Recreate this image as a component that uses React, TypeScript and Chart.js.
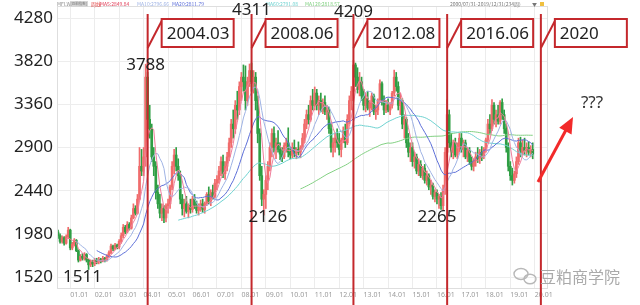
import { useEffect, useRef } from 'react';
import { Chart, registerables } from 'chart.js';

Chart.register(...registerables);

// ---- categories: monthly, 2000.07 .. 2020.07 (last 7 are empty padding months)
const categories: string[] = [];
for (let k = 0; k < 241; k++) {
  const m0 = 6 + k;
  const yy = 2000 + Math.floor(m0 / 12);
  const mm = (m0 % 12) + 1;
  categories.push(`${yy}.${String(mm).padStart(2, '0')}`);
}

const yTicks = [1520, 1980, 2440, 2900, 3360, 3820, 4280];

// ---- monthly OHLC (2000.07 .. 2019.12)
const opens = [
  2000, 1960, 1900, 1940, 1880, 1950,
  2020, 1830, 1870, 1910, 1800, 1700, 1740, 1720, 1760, 1700, 1650, 1680,
  1660, 1700, 1680, 1710, 1690, 1720, 1700, 1740, 1780, 1850, 1820, 1860,
  1840, 1900, 1960, 2050, 2000, 2080, 2040, 2150, 2250, 2200, 2350, 2700,
  2650, 2800, 3650, 3200, 3100, 2800, 2700, 2420, 2300, 2200, 2250, 2150,
  2280, 2300, 2480, 2700, 2820, 2700, 2600, 2350, 2250, 2300, 2220, 2280,
  2240, 2350, 2280, 2230, 2260, 2300, 2240, 2300, 2400, 2330, 2420, 2380,
  2520, 2560, 2650, 2750, 2620, 2700, 2800, 2950, 3150, 3100, 3350, 3300,
  3550, 3650, 3600, 3400, 3600, 3720, 3580, 3650, 3400, 3050, 2600, 2350,
  2400, 2550, 2700, 2900, 3050, 2900, 2950, 2880, 2830, 2800, 2920, 2950,
  2850, 2820, 2900, 2840, 2880, 2850, 2900, 3000, 3150, 3250, 3200, 3400,
  3350, 3480, 3350, 3400, 3300, 3380, 3280, 3300, 3100, 2900, 2950, 3000,
  2950, 2880, 2980, 3080, 2950, 3200, 3400, 3500, 3780, 3650, 3520, 3600,
  3450, 3350, 3420, 3320, 3380, 3450, 3280, 3300, 3400, 3580, 3400, 3300,
  3350, 3300, 3350, 3480, 3650, 3550, 3350, 3400, 3150, 3200, 2950, 2850,
  2900, 2750, 2800, 2650, 2720, 2600, 2680, 2550, 2600, 2480, 2500, 2380,
  2420, 2350, 2380, 2280, 2450, 2850, 3250, 2950, 2850, 2950, 2820, 2900,
  3000, 2880, 2950, 2800, 2870, 2750, 2700, 2760, 2800, 2780, 2850, 2800,
  2880, 2980, 3150, 3100, 3350, 3200, 3250, 3180, 3380, 3250, 3100, 2900,
  2700, 2600, 2550, 2620, 2750, 2950, 2850, 2900, 2870, 2900, 2850, 2880,
];
const highs = [
  2020, 1980, 1960, 1950, 1970, 2050,
  2030, 1890, 1930, 1920, 1810, 1760, 1770, 1780, 1770, 1710, 1700, 1700,
  1720, 1720, 1730, 1720, 1740, 1730, 1760, 1800, 1870, 1860, 1880, 1870,
  1920, 1990, 2080, 2070, 2110, 2100, 2180, 2300, 2280, 2400, 2900, 2880,
  2900, 3788, 3700, 3350, 3150, 2900, 2750, 2500, 2400, 2300, 2280, 2300,
  2350, 2500, 2750, 2880, 2900, 2780, 2650, 2400, 2350, 2380, 2300, 2350,
  2380, 2400, 2330, 2300, 2340, 2350, 2320, 2420, 2480, 2450, 2500, 2560,
  2600, 2700, 2800, 2820, 2750, 2850, 3000, 3200, 3300, 3400, 3500, 3600,
  3700, 3780, 3770, 3650, 3790, 3800, 3720, 3700, 3450, 3100, 2700, 2450,
  2600, 2750, 2950, 3100, 3120, 3000, 3080, 2950, 2900, 2950, 3000, 3110,
  2900, 2950, 2980, 2900, 2960, 2920, 3050, 3200, 3300, 3350, 3450, 3520,
  3545, 3520, 3450, 3480, 3420, 3450, 3350, 3330, 3150, 3000, 3050, 3100,
  3050, 3000, 3120, 3150, 3250, 3450, 3550, 3830, 3800, 3750, 3700, 3650,
  3520, 3480, 3500, 3400, 3480, 3470, 3350, 3420, 3620, 3600, 3450, 3400,
  3420, 3380, 3500, 3725, 3700, 3600, 3480, 3420, 3250, 3220, 3050, 2950,
  2950, 2850, 2830, 2780, 2760, 2700, 2720, 2650, 2620, 2550, 2520, 2450,
  2450, 2400, 2420, 2500, 2900, 3410, 3300, 3050, 2980, 3000, 2950, 3050,
  3050, 2980, 2980, 2900, 2900, 2800, 2780, 2850, 2900, 2880, 2910, 2900,
  3000, 3200, 3250, 3410, 3380, 3300, 3350, 3400, 3420, 3300, 3150, 2950,
  2750, 2680, 2650, 2800, 3000, 3010, 2980, 3000, 2950, 2960, 2920, 2950,
];
const lows = [
  1930, 1880, 1880, 1860, 1870, 1930,
  1810, 1810, 1850, 1790, 1680, 1690, 1700, 1700, 1680, 1600, 1630, 1630,
  1640, 1660, 1660, 1670, 1680, 1680, 1690, 1730, 1770, 1800, 1810, 1820,
  1820, 1880, 1940, 1980, 1990, 2020, 2030, 2140, 2180, 2190, 2340, 2600,
  2600, 2700, 3100, 3000, 2750, 2600, 2350, 2250, 2150, 2120, 2100, 2106,
  2200, 2250, 2450, 2620, 2650, 2550, 2300, 2180, 2160, 2200, 2150, 2200,
  2210, 2250, 2200, 2180, 2220, 2210, 2200, 2280, 2300, 2280, 2350, 2360,
  2450, 2520, 2600, 2580, 2560, 2650, 2760, 2900, 3000, 3050, 3200, 3250,
  3400, 3500, 3300, 3350, 3550, 3500, 3480, 3300, 2950, 2550, 2280, 2180,
  2250, 2450, 2650, 2800, 2850, 2780, 2850, 2770, 2750, 2780, 2850, 2800,
  2780, 2790, 2800, 2780, 2820, 2790, 2880, 2950, 3100, 3150, 3180, 3300,
  3300, 3300, 3250, 3280, 3260, 3250, 3200, 3050, 2850, 2800, 2850, 2900,
  2820, 2800, 2950, 2900, 2930, 3150, 3300, 3450, 3550, 3480, 3450, 3400,
  3300, 3280, 3300, 3230, 3300, 3250, 3200, 3250, 3380, 3350, 3250, 3270,
  3280, 3250, 3320, 3450, 3500, 3300, 3250, 3100, 3000, 2900, 2800, 2750,
  2700, 2680, 2620, 2600, 2580, 2560, 2520, 2500, 2450, 2400, 2350, 2320,
  2300, 2250, 2240, 2230, 2400, 2800, 2900, 2800, 2780, 2800, 2780, 2850,
  2850, 2800, 2780, 2750, 2720, 2660, 2650, 2700, 2740, 2730, 2760, 2780,
  2850, 2950, 3050, 3080, 3150, 3120, 3150, 3150, 3200, 3050, 2850, 2650,
  2550, 2500, 2520, 2580, 2720, 2800, 2820, 2820, 2800, 2820, 2800, 2780,
];
const closes = [
  1960, 1900, 1940, 1880, 1950, 2020,
  1830, 1870, 1910, 1800, 1700, 1740, 1720, 1760, 1700, 1650, 1680, 1660,
  1700, 1680, 1710, 1690, 1720, 1700, 1740, 1780, 1850, 1820, 1860, 1840,
  1900, 1960, 2050, 2000, 2080, 2040, 2150, 2250, 2200, 2350, 2700, 2650,
  2800, 3650, 3200, 3100, 2800, 2700, 2420, 2300, 2200, 2250, 2150, 2280,
  2300, 2480, 2700, 2820, 2700, 2600, 2350, 2250, 2300, 2220, 2280, 2240,
  2350, 2280, 2230, 2260, 2300, 2240, 2300, 2400, 2330, 2420, 2380, 2520,
  2560, 2650, 2750, 2620, 2700, 2800, 2950, 3150, 3100, 3350, 3300, 3550,
  3650, 3600, 3400, 3600, 3720, 3580, 3650, 3400, 3050, 2600, 2350, 2400,
  2550, 2700, 2900, 3050, 2900, 2950, 2880, 2830, 2800, 2920, 2950, 2850,
  2820, 2900, 2840, 2880, 2850, 2900, 3000, 3150, 3250, 3200, 3400, 3350,
  3480, 3350, 3400, 3300, 3380, 3280, 3300, 3100, 2900, 2950, 3000, 2950,
  2880, 2980, 3080, 2950, 3200, 3400, 3500, 3780, 3650, 3520, 3600, 3450,
  3350, 3420, 3320, 3380, 3450, 3280, 3300, 3400, 3580, 3400, 3300, 3350,
  3300, 3350, 3480, 3650, 3550, 3350, 3400, 3150, 3200, 2950, 2850, 2900,
  2750, 2800, 2650, 2720, 2600, 2680, 2550, 2600, 2480, 2500, 2380, 2420,
  2350, 2380, 2280, 2450, 2850, 3250, 2950, 2850, 2950, 2820, 2900, 3000,
  2880, 2950, 2800, 2870, 2750, 2700, 2760, 2800, 2780, 2850, 2800, 2880,
  2980, 3150, 3100, 3350, 3200, 3250, 3180, 3380, 3250, 3100, 2900, 2700,
  2600, 2550, 2620, 2750, 2950, 2850, 2900, 2870, 2900, 2850, 2880, 2830,
];

// ---- moving averages shown
const maPeriods = [5, 10, 20, 60, 120];
const maColors = ['#ef7f9c', '#9fb3e4', '#5d6fd8', '#6fd2d0', '#82d082'];
const maHeaderLabels = ['MA5:2849.84', 'MA10:2796.66', 'MA20:2811.79', 'MA60:2791.08', 'MA120:2818.57'];
const rangeLabel = '2000/07/31-2019/12/31(234周)';

// ---- annotations
const events = [
  { label: '2004.03', at: '2004.03' },
  { label: '2008.06', at: '2008.06' },
  { label: '2012.08', at: '2012.08' },
  { label: '2016.06', at: '2016.06' },
  { label: '2020', at: '2020.04' },
];
const extremes = [
  { text: '3788', at: '2004.02', value: 3779 },
  { text: '4311', at: '2008.06', value: 4365 },
  { text: '4209', at: '2012.08', value: 4344 },
  { text: '2126', at: '2009.02', value: 2159 },
  { text: '2265', at: '2016.01', value: 2159 },
  { text: '1511', at: '2001.07', value: 1520 },
];

const UP = '#f06c6c';
const DOWN = '#2f9e44';
const FONT = '"Noto Sans", "DejaVu Sans", sans-serif';
const CJK = '"Noto Sans CJK SC", "Noto Sans", sans-serif';

function sma(arr: number[], n: number): (number | null)[] {
  return arr.map((_, i) => {
    if (i < n - 1) return null;
    let s = 0;
    for (let k = i - n + 1; k <= i; k++) s += arr[k];
    return s / n;
  });
}

const annotationPlugin = {
  id: 'annotations',
  afterDraw(chart: any) {
    const { ctx, chartArea: a, scales } = chart;
    const xs = scales.x;
    const ys = scales.y;
    ctx.save();

    // plot frame
    ctx.strokeStyle = '#dedede';
    ctx.lineWidth = 1;
    ctx.strokeRect(a.left + 0.5, a.top + 0.5, a.right - a.left - 1, a.bottom - a.top);

    // header line
    ctx.textBaseline = 'middle';
    ctx.textAlign = 'left';
    const hy = 4;
    ctx.font = `5px ${CJK}`;
    ctx.fillStyle = '#888';
    ctx.fillText('MFI.WI', 57, hy);
    ctx.fillStyle = '#d6d6d6';
    ctx.fillRect(70, 1, 18, 6);
    ctx.fillStyle = '#777';
    ctx.font = `3.5px ${CJK}`;
    ctx.fillText('[豆粕指数]', 70.5, hy);
    ctx.font = `5px ${CJK}`;
    ctx.fillStyle = '#e03a3a';
    ctx.fillText('周线', 91, hy);
    const hx = [100, 137, 172, 266, 305];
    maHeaderLabels.forEach((t, i) => {
      ctx.fillStyle = i === 0 ? '#e0405a' : maColors[i];
      ctx.fillText(t, hx[i], hy);
    });
    ctx.fillStyle = '#777';
    ctx.fillText(rangeLabel, 450, hy);
    ctx.fillText('▼', 532, hy);
    ctx.fillStyle = '#f0c040';
    ctx.fillRect(540, 2, 4, 4);

    // event lines + boxes
    ctx.font = `17px ${FONT}`;
    events.forEach((ev) => {
      const px = xs.getPixelForValue(categories.indexOf(ev.at));
      ctx.strokeStyle = '#c4282c';
      ctx.lineWidth = 2;
      ctx.beginPath();
      ctx.moveTo(px, 14);
      ctx.lineTo(px, chart.height);
      ctx.stroke();
      ctx.beginPath();
      ctx.moveTo(px, 48);
      ctx.lineTo(px + 14, 21);
      ctx.stroke();
      ctx.fillStyle = '#fff';
      ctx.fillRect(px + 14, 19, 72, 28);
      ctx.strokeRect(px + 14, 19, 72, 28);
      ctx.fillStyle = '#222';
      ctx.textAlign = 'left';
      ctx.fillText(ev.label, px + 19, 34);
    });

    // extreme value labels
    ctx.fillStyle = '#222';
    ctx.textAlign = 'center';
    extremes.forEach((p) => {
      ctx.fillText(p.text, xs.getPixelForValue(categories.indexOf(p.at)), ys.getPixelForValue(p.value));
    });

    // question marks + arrow
    ctx.fillStyle = '#333';
    ctx.fillText('???', a.right + 44, 103);
    ctx.strokeStyle = '#f22a2a';
    ctx.fillStyle = '#f22a2a';
    ctx.lineWidth = 3;
    const tx = a.right - 10, ty = 182, hx2 = a.right + 25, hy2 = 117;
    const ang = Math.atan2(hy2 - ty, hx2 - tx);
    ctx.beginPath();
    ctx.moveTo(tx, ty);
    ctx.lineTo(hx2 - 10 * Math.cos(ang), hy2 - 10 * Math.sin(ang));
    ctx.stroke();
    ctx.beginPath();
    ctx.moveTo(hx2, hy2);
    ctx.lineTo(hx2 - 16 * Math.cos(ang) + 7 * Math.sin(ang), hy2 - 16 * Math.sin(ang) - 7 * Math.cos(ang));
    ctx.lineTo(hx2 - 16 * Math.cos(ang) - 7 * Math.sin(ang), hy2 - 16 * Math.sin(ang) + 7 * Math.cos(ang));
    ctx.closePath();
    ctx.fill();

    // watermark
    ctx.strokeStyle = '#b8b8b8';
    ctx.lineWidth = 1.4;
    ctx.beginPath();
    ctx.ellipse(521, 274, 7, 5.5, 0, 0, Math.PI * 2);
    ctx.stroke();
    ctx.beginPath();
    ctx.ellipse(530, 279, 6, 4.8, 0, 0, Math.PI * 2);
    ctx.stroke();
    ctx.fillStyle = '#aaa';
    ctx.textAlign = 'left';
    ctx.font = `16px ${CJK}`;
    ctx.fillText('豆粕商学院', 540, 277);

    ctx.restore();
  },
};

export default function App() {
  const ref = useRef<HTMLCanvasElement | null>(null);

  useEffect(() => {
    document.body.style.margin = '0';
    if (!ref.current) return;
    const colors = closes.map((c, i) => (c >= opens[i] ? UP : DOWN));

    const maSets = maPeriods.map((n, k) => ({
      type: 'line' as const,
      label: `MA${n}`,
      data: sma(closes, n),
      borderColor: maColors[k],
      borderWidth: 1,
      pointRadius: 0,
      tension: 0,
      fill: false,
      order: 0,
    }));

    const chart = new Chart(ref.current, {
      type: 'bar',
      data: {
        labels: categories,
        datasets: [
          ...maSets,
          {
            type: 'bar' as const,
            label: 'body',
            data: opens.map((o, i) => [o, closes[i]]),
            backgroundColor: colors,
            barThickness: 2,
            minBarLength: 1,
            grouped: false,
            order: 1,
          },
          {
            type: 'bar' as const,
            label: 'wick',
            data: lows.map((l, i) => [l, highs[i]]),
            backgroundColor: colors,
            barThickness: 1,
            grouped: false,
            order: 2,
          },
        ] as any,
      },
      options: {
        animation: false,
        responsive: true,
        maintainAspectRatio: false,
        events: [],
        layout: { padding: { top: 6, right: 92, left: 0, bottom: 0 } },
        plugins: { legend: { display: false }, tooltip: { enabled: false } },
        scales: {
          x: {
            type: 'category',
            offset: true,
            border: { display: false },
            grid: {
              offset: false,
              drawTicks: false,
              color: (c: any) => (categories[c.index] && categories[c.index].endsWith('.01') ? '#ececec' : 'rgba(0,0,0,0)'),
            },
            ticks: {
              autoSkip: false,
              maxRotation: 0,
              minRotation: 0,
              align: 'start',
              padding: 3,
              color: '#9a9a9a',
              font: { size: 7, family: FONT },
              callback: (_v: any, i: number) => (categories[i].endsWith('.01') ? categories[i].slice(2) : ''),
            },
            afterFit: (s: any) => {
              s.height = 17;
              s.paddingLeft = 0;
              s.paddingRight = 0;
            },
          },
          y: {
            type: 'linear',
            min: 1403,
            max: 4408,
            border: { display: false },
            grid: { color: '#ededed', drawTicks: false },
            afterBuildTicks: (s: any) => {
              s.ticks = yTicks.map((v) => ({ value: v }));
            },
            ticks: {
              padding: 4,
              color: '#222',
              font: { size: 17, family: FONT },
              callback: (v: any) => String(v),
            },
            afterFit: (s: any) => {
              s.width = 57;
              s.paddingTop = 0;
              s.paddingBottom = 0;
            },
          },
        },
      } as any,
      plugins: [annotationPlugin],
    });
    return () => chart.destroy();
  }, []);

  return (
    <div style={{ width: 640, height: 305, position: 'relative', background: '#fff' }}>
      <canvas ref={ref} />
    </div>
  );
}
